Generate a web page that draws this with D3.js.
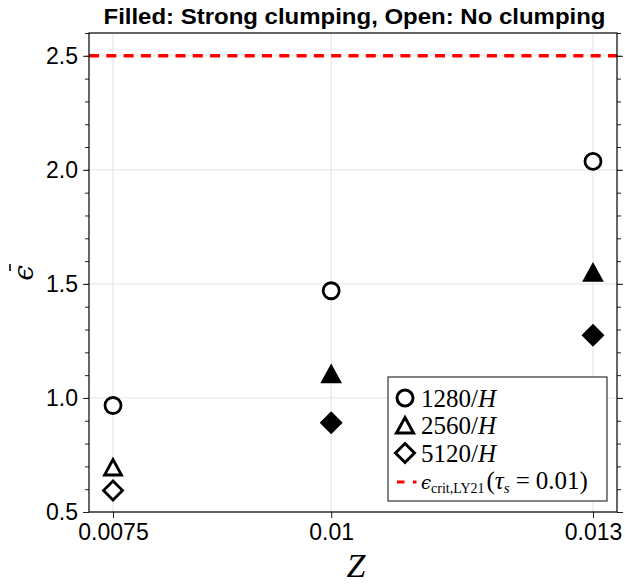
<!DOCTYPE html>
<html>
<head>
<meta charset="utf-8">
<script src="https://cdn.jsdelivr.net/npm/d3@7"></script>
<style>
  body { margin: 0; background: #fff; }
  svg { display: block; }
</style>
</head>
<body>
<svg id="chart" width="625" height="584"></svg>
<script>
// metallicity values on the x axis
const zValues = [0.0075, 0.01, 0.013];
const zTickLabels = ['0.0075', '0.01', '0.013'];

// mean epsilon per resolution
const eps1280 = [0.967, 1.47, 2.037];
const eps2560 = [0.695, 1.103, 1.548];
const eps5120 = [0.594, 0.891, 1.275];

// strong clumping (filled) flags
const clump1280 = [false, false, false];
const clump2560 = [false, true, true];
const clump5120 = [false, true, true];

const yMajorTicks = [0.5, 1.0, 1.5, 2.0, 2.5];
const yTickLabels = ['0.5', '1.0', '1.5', '2.0', '2.5'];
const epsCrit = 2.5;

const resolutions = ['1280', '2560', '5120'];

const width = 625, height = 584;
const margin = { left: 89, right: 8, top: 33, bottom: 72 };

const svg = d3.select('#chart');

const x = d3.scaleLinear().domain([0.007225, 0.013275]).range([margin.left, width - margin.right]);
const y = d3.scaleLinear().domain([0.5, 2.6]).range([height - margin.bottom, margin.top]);

const [x0, x1] = x.range();
const [y0, y1] = y.range();

// grid
const grid = svg.append('g').attr('class', 'grid');
grid.selectAll('line.gx')
  .data(zValues)
  .enter().append('line')
  .attr('x1', d => x(d)).attr('x2', d => x(d))
  .attr('y1', y0).attr('y2', y1)
  .attr('stroke', '#e3e3e3').attr('stroke-width', 1);
grid.selectAll('line.gy')
  .data(yMajorTicks)
  .enter().append('line')
  .attr('x1', x0).attr('x2', x1)
  .attr('y1', d => y(d)).attr('y2', d => y(d))
  .attr('stroke', '#e3e3e3').attr('stroke-width', 1);

// critical line
svg.append('line')
  .attr('x1', x0).attr('x2', x1)
  .attr('y1', y(epsCrit)).attr('y2', y(epsCrit))
  .attr('stroke', '#ff0000').attr('stroke-width', 3.5)
  .attr('stroke-dasharray', '10,7.3');

// axes
const minorTicks = d3.range(5, 27).map(d => d / 10);
const tickFont = '"Liberation Sans", Arial, sans-serif';

const xAxis = d3.axisBottom(x)
  .tickValues(zValues)
  .tickFormat((d, i) => zTickLabels[i])
  .tickSize(6).tickPadding(6);
svg.append('g')
  .attr('transform', `translate(0,${y0})`)
  .call(xAxis)
  .call(g => g.select('.domain').remove())
  .call(g => g.selectAll('text').attr('font-size', 23).attr('font-family', tickFont).attr('fill', '#000'));

const yAxis = d3.axisLeft(y)
  .tickValues(yMajorTicks)
  .tickFormat((d, i) => yTickLabels[i])
  .tickSize(6).tickPadding(5);
svg.append('g')
  .attr('transform', `translate(${x0},0)`)
  .call(yAxis)
  .call(g => g.select('.domain').remove())
  .call(g => g.selectAll('text').attr('font-size', 23).attr('font-family', tickFont).attr('fill', '#000'));

svg.append('g')
  .attr('transform', `translate(${x0},0)`)
  .call(d3.axisLeft(y).tickValues(minorTicks).tickFormat('').tickSize(4))
  .call(g => g.select('.domain').remove());

svg.append('g')
  .attr('transform', `translate(${x1},0)`)
  .call(d3.axisRight(y).tickValues(yMajorTicks).tickFormat('').tickSize(6))
  .call(g => g.select('.domain').remove());
svg.append('g')
  .attr('transform', `translate(${x1},0)`)
  .call(d3.axisRight(y).tickValues(minorTicks).tickFormat('').tickSize(4))
  .call(g => g.select('.domain').remove());

svg.selectAll('.tick line').attr('stroke', '#222').attr('stroke-width', 1);

// frame
svg.append('rect')
  .attr('x', x0).attr('y', y1)
  .attr('width', x1 - x0).attr('height', y0 - y1)
  .attr('fill', 'none').attr('stroke', '#000').attr('stroke-width', 1.2);

// marker shapes
const markerPath = {
  '1280': 'M8,0A8,8 0 1,1 -8,0A8,8 0 1,1 8,0Z',
  '2560': 'M0,-8L8.5,7.5L-8.5,7.5Z',
  '5120': 'M0,-9.5L9.5,0L0,9.5L-9.5,0Z'
};

const series = [
  { res: '1280', values: eps1280, filled: clump1280 },
  { res: '2560', values: eps2560, filled: clump2560 },
  { res: '5120', values: eps5120, filled: clump5120 }
];

series.forEach(s => {
  svg.append('g').selectAll('path')
    .data(zValues.map((z, i) => ({ z, v: s.values[i], f: s.filled[i] })))
    .enter().append('path')
    .attr('d', markerPath[s.res])
    .attr('transform', d => `translate(${x(d.z)},${y(d.v)})`)
    .attr('fill', d => d.f ? '#000' : '#fff')
    .attr('stroke', '#000').attr('stroke-width', 2.8)
    .attr('stroke-linejoin', 'miter');
});

// legend
const serif = '"Liberation Serif", "Times New Roman", serif';
const legend = svg.append('g');
legend.append('rect')
  .attr('x', 388).attr('y', 377).attr('width', 219).attr('height', 124)
  .attr('fill', '#fff').attr('stroke', '#333').attr('stroke-width', 1.2);

const legendRows = [398, 425.5, 453];
resolutions.forEach((r, i) => {
  legend.append('path')
    .attr('d', markerPath[r])
    .attr('transform', `translate(405,${legendRows[i]})`)
    .attr('fill', '#fff').attr('stroke', '#000').attr('stroke-width', 3);
  const t = legend.append('text')
    .attr('x', 421).attr('y', legendRows[i] + 8.5)
    .attr('font-family', serif).attr('font-size', 25);
  t.append('tspan').text(r + '/');
  t.append('tspan').attr('font-style', 'italic').text('H');
});

legend.append('line')
  .attr('x1', 397).attr('x2', 416.5)
  .attr('y1', 482).attr('y2', 482)
  .attr('stroke', '#ff0000').attr('stroke-width', 3)
  .attr('stroke-dasharray', '7.5,8.5');

const lt = legend.append('text')
  .attr('x', 421).attr('y', 489)
  .attr('font-family', serif).attr('font-size', 25);
lt.append('tspan').attr('font-family', '"DejaVu Serif", serif').attr('font-style', 'italic').attr('font-size', 18).text('ϵ');
lt.append('tspan').attr('font-size', 14).attr('dy', 4).text('crit,LY21');
lt.append('tspan').attr('dy', -4).attr('dx', 2).text('(');
lt.append('tspan').attr('font-style', 'italic').text('τ');
lt.append('tspan').attr('font-style', 'italic').attr('font-size', 15).attr('dy', 4).text('s');
lt.append('tspan').attr('dy', -4).attr('dx', 6).text('=');
lt.append('tspan').attr('dx', 6).text('0.01)');

// title
svg.append('text')
  .attr('x', 354.5).attr('y', 24)
  .attr('text-anchor', 'middle')
  .attr('font-family', tickFont).attr('font-weight', 'bold').attr('font-size', 22)
  .attr('textLength', 502).attr('lengthAdjust', 'spacingAndGlyphs')
  .text('Filled: Strong clumping, Open: No clumping');

// axis labels
svg.append('text')
  .attr('x', 356).attr('y', 577)
  .attr('text-anchor', 'middle')
  .attr('font-family', serif).attr('font-style', 'italic').attr('font-size', 34)
  .text('Z');

const yl = svg.append('g').attr('transform', 'translate(33,273) rotate(-90)');
yl.append('text')
  .attr('x', 0).attr('y', 0)
  .attr('text-anchor', 'middle')
  .attr('font-family', '"DejaVu Serif", serif').attr('font-style', 'italic').attr('font-size', 28)
  .text('ϵ');
yl.append('line')
  .attr('x1', 2).attr('x2', 9)
  .attr('y1', -23).attr('y2', -23)
  .attr('stroke', '#000').attr('stroke-width', 1.6);
</script>
</body>
</html>
